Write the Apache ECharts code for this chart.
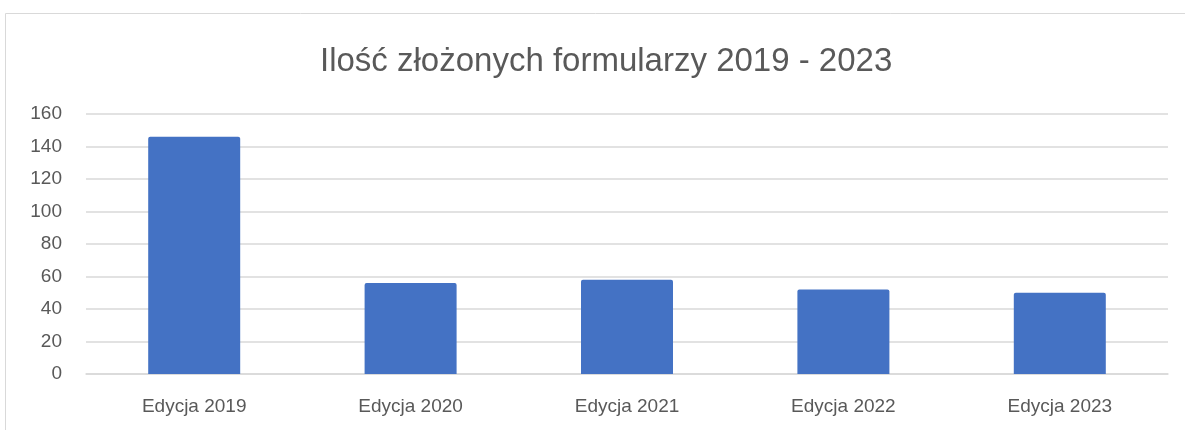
<!DOCTYPE html>
<html>
<head>
<meta charset="utf-8">
<script src="https://cdn.jsdelivr.net/npm/echarts@6/dist/echarts.min.js"></script>
<style>
    body { margin: 0; background: #fff; }
    #chart { width: 1185px; height: 430px; }
</style>
</head>
<body>
<div id="chart"></div>
<script>
    // dane
    var categories = ['Edycja 2019', 'Edycja 2020', 'Edycja 2021', 'Edycja 2022', 'Edycja 2023'];
    var values = [146, 56, 58, 52, 50];
    var yTicks = [0, 20, 40, 60, 80, 100, 120, 140, 160];

    var myChart = echarts.init(document.getElementById('chart'));
    var font = '"Liberation Sans", Arial, sans-serif';

    var option = {
        animation: false,
        textStyle: { fontFamily: font },
        title: {
            text: 'Ilość złożonych formularzy 2019 - 2023',
            left: 315,
            top: 40,
            textStyle: { fontSize: 33, fontWeight: 'normal', color: '#595959', fontFamily: font }
        },
        graphic: [{
            type: 'rect',
            silent: true,
            shape: { x: 5.5, y: 13.5, width: 1250, height: 500 },
            style: { fill: 'none', stroke: '#d9d9d9', lineWidth: 1 }
        }],
        grid: { left: 86, right: 17, top: 114, bottom: 56 },
        xAxis: {
            type: 'category',
            data: categories,
            axisTick: { show: false },
            axisLine: { lineStyle: { color: '#d9d9d9', width: 1.5 } },
            axisLabel: { color: '#595959', fontSize: 19, margin: 23 }
        },
        yAxis: {
            type: 'value',
            min: yTicks[0],
            max: yTicks[yTicks.length - 1],
            interval: 20,
            axisLine: { show: false },
            axisTick: { show: false },
            axisLabel: { color: '#595959', fontSize: 19, margin: 24 },
            splitLine: { lineStyle: { color: '#d9d9d9', width: 1.5 } }
        },
        series: [{
            type: 'bar',
            data: values,
            barWidth: 92,
            itemStyle: { color: '#4472C4', borderRadius: [2, 2, 0, 0] }
        }]
    };

    myChart.setOption(option);
</script>
</body>
</html>
